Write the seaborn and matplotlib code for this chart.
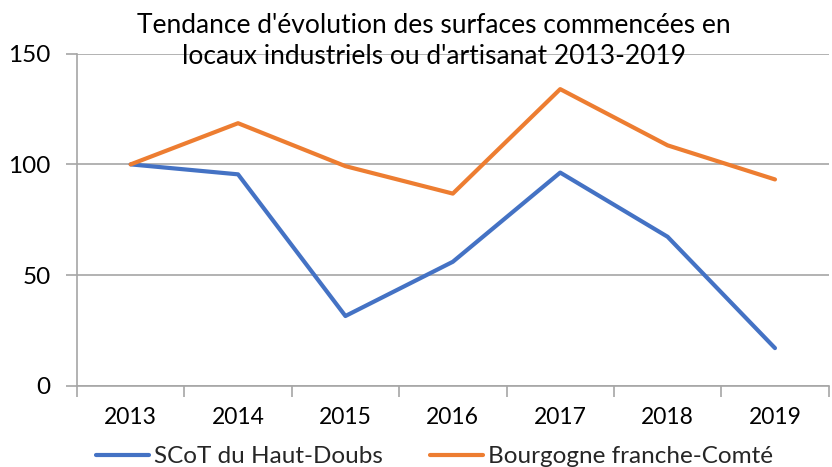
import matplotlib
matplotlib.use("Agg")
import matplotlib.pyplot as plt
import seaborn as sns
import pandas as pd
import numpy as np
from matplotlib.lines import Line2D

years = ["2013", "2014", "2015", "2016", "2017", "2018", "2019"]
scot = [100, 95.5, 31.5, 56, 96.3, 67.3, 17]
bfc = [100, 118.6, 99.2, 86.8, 134, 108.6, 93.2]
series_names = ["SCoT du Haut-Doubs", "Bourgogne franche-Comté"]
title = "Tendance d'évolution des surfaces commencées en\nlocaux industriels ou d'artisanat 2013-2019"

df = pd.DataFrame({
    "x": list(range(len(years))) * 2,
    "value": scot + bfc,
    "serie": [series_names[0]] * len(years) + [series_names[1]] * len(years),
})

sns.set_theme(style="white")
plt.rcParams["font.family"] = ["Lato", "DejaVu Sans"]

fig = plt.figure(figsize=(8.32, 4.67), dpi=100)
ax = fig.add_axes([0.0925, 0.174, 0.996 - 0.0925, 0.885 - 0.174])

sns.lineplot(data=df, x="x", y="value", hue="serie",
             palette=["#4472C4", "#ED7D31"], linewidth=3, ax=ax,
             legend=False)

ax.set_xlim(-0.5, len(years) - 0.5)
ax.set_ylim(0, 150)
ax.set_yticks([0, 50, 100, 150])
ax.yaxis.grid(True, color="#A6A6A6", linewidth=1.2)
ax.set_axisbelow(True)
ax.set_xticks(range(len(years)))
ax.set_xticklabels(years)
ax.set_xticks(np.arange(-0.5, len(years)), minor=True)
ax.tick_params(axis="x", which="major", length=0, pad=15, labelsize=16.5, colors="black")
ax.tick_params(axis="x", which="minor", length=8, width=1.2, color="#A6A6A6", direction="out")
ax.tick_params(axis="y", length=8, width=1.2, color="#A6A6A6", pad=11, labelsize=17.5, labelcolor="black", direction="out")
ax.xaxis.set_tick_params(bottom=True, which="both")
ax.yaxis.set_tick_params(left=True)
ax.set_xlabel("")
ax.set_ylabel("")
for s in ["top", "right"]:
    ax.spines[s].set_visible(False)
for s in ["left", "bottom"]:
    ax.spines[s].set_color("#A6A6A6")
    ax.spines[s].set_linewidth(1.2)

fig.text(0.522, 0.972, title, ha="center", va="top", fontsize=19, linespacing=1.32, color="black")

handles = [Line2D([], [], color="#4472C4", lw=3), Line2D([], [], color="#ED7D31", lw=3)]
fig.legend(handles, series_names, loc="center", bbox_to_anchor=(0.522, 0.022),
           ncol=2, frameon=False, fontsize=17.5, handlelength=2.18, handletextpad=0.2,
           columnspacing=1.93, borderpad=0)

fig.savefig("out.png", dpi=100)
